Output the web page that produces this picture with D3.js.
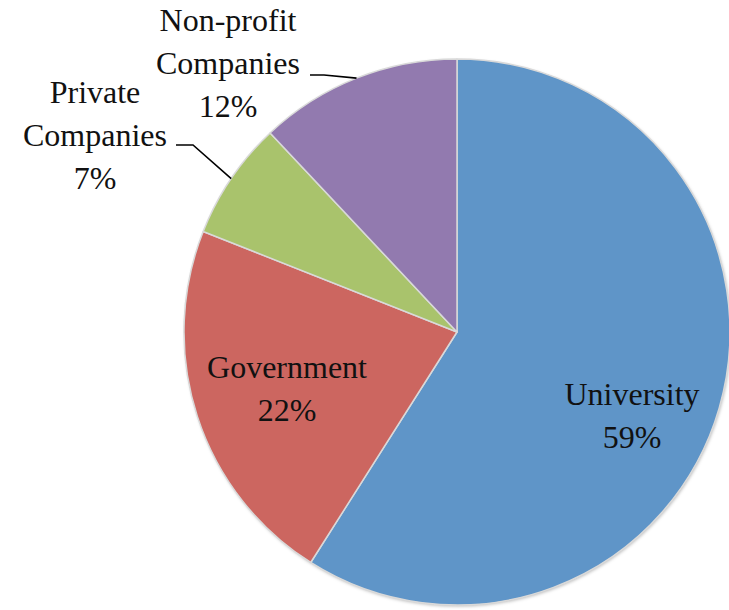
<!DOCTYPE html>
<html>
<head>
<meta charset="utf-8">
<script src="https://cdn.jsdelivr.net/npm/d3@7"></script>
<style>
  html, body { margin: 0; padding: 0; background: #fff; }
  svg { display: block; }
  text { font-family: "Liberation Serif", "DejaVu Serif", serif; fill: #111; }
</style>
</head>
<body>
<svg id="chart" width="729" height="610"></svg>
<script>
// Sector shares (percent), in clockwise order from 12 o'clock
const categories = ["University", "Government", "Private Companies", "Non-profit Companies"];
const values = [59, 22, 7, 12];
const colors = ["#5f95c8", "#cc6660", "#a9c36c", "#927aaf"];

// Label lines per slice
const labelLines = [
  ["University", "59%"],
  ["Government", "22%"],
  ["Private", "Companies", "7%"],
  ["Non-profit", "Companies", "12%"]
];

const width = 729, height = 610;
const cx = 457, cy = 332, radius = 273;

const svg = d3.select("#chart");

const defs = svg.append("defs");
const shadow = defs.append("filter").attr("id", "pieShadow")
  .attr("x", "-10%").attr("y", "-10%").attr("width", "120%").attr("height", "120%");
shadow.append("feDropShadow").attr("dx", 1).attr("dy", 1.5).attr("stdDeviation", 1.5)
  .attr("flood-color", "#000").attr("flood-opacity", 0.25);

const data = categories.map((c, i) => ({ name: c, value: values[i], color: colors[i], lines: labelLines[i] }));

const pie = d3.pie().value(d => d.value).sort(null);
const arcs = pie(data);
const arc = d3.arc().innerRadius(0).outerRadius(radius);

const g = svg.append("g").attr("transform", `translate(${cx},${cy})`);

g.append("circle").attr("r", radius).attr("fill", "#d9d9d9").attr("filter", "url(#pieShadow)");

g.selectAll("path.slice")
  .data(arcs)
  .join("path")
  .attr("class", "slice")
  .attr("d", arc)
  .attr("fill", d => d.data.color)
  .attr("stroke", "#d9d9d9")
  .attr("stroke-width", 1.5)
  .attr("stroke-linejoin", "round");

// Label placement: inside for large slices, outside with leader lines for small ones
const fontSize = 32;
const lineH = 43;
const labelPos = [
  { x: 632, y: 405 },
  { x: 287, y: 378 },
  { x: 95, y: 103, leader: [[176, 145], [193, 145]] },
  { x: 228, y: 31, leader: [[310, 75], [324, 75]] }
];

// Leader lines run from the label to the arc at the slice's mid-angle
arcs.forEach((a, i) => {
  const p = labelPos[i];
  if (!p.leader) return;
  const mid = (a.startAngle + a.endAngle) / 2;
  const ex = cx + Math.sin(mid) * radius;
  const ey = cy - Math.cos(mid) * radius;
  const pts = p.leader.concat([[ex, ey]]);
  svg.append("path")
    .attr("d", d3.line()(pts))
    .attr("fill", "none")
    .attr("stroke", "#000")
    .attr("stroke-width", 1.6);
});

arcs.forEach((a, i) => {
  const p = labelPos[i];
  const t = svg.append("text")
    .attr("text-anchor", "middle")
    .attr("font-size", fontSize);
  a.data.lines.forEach((ln, k) => {
    t.append("tspan").attr("x", p.x).attr("y", p.y + k * lineH).text(ln);
  });
});
</script>
</body>
</html>
